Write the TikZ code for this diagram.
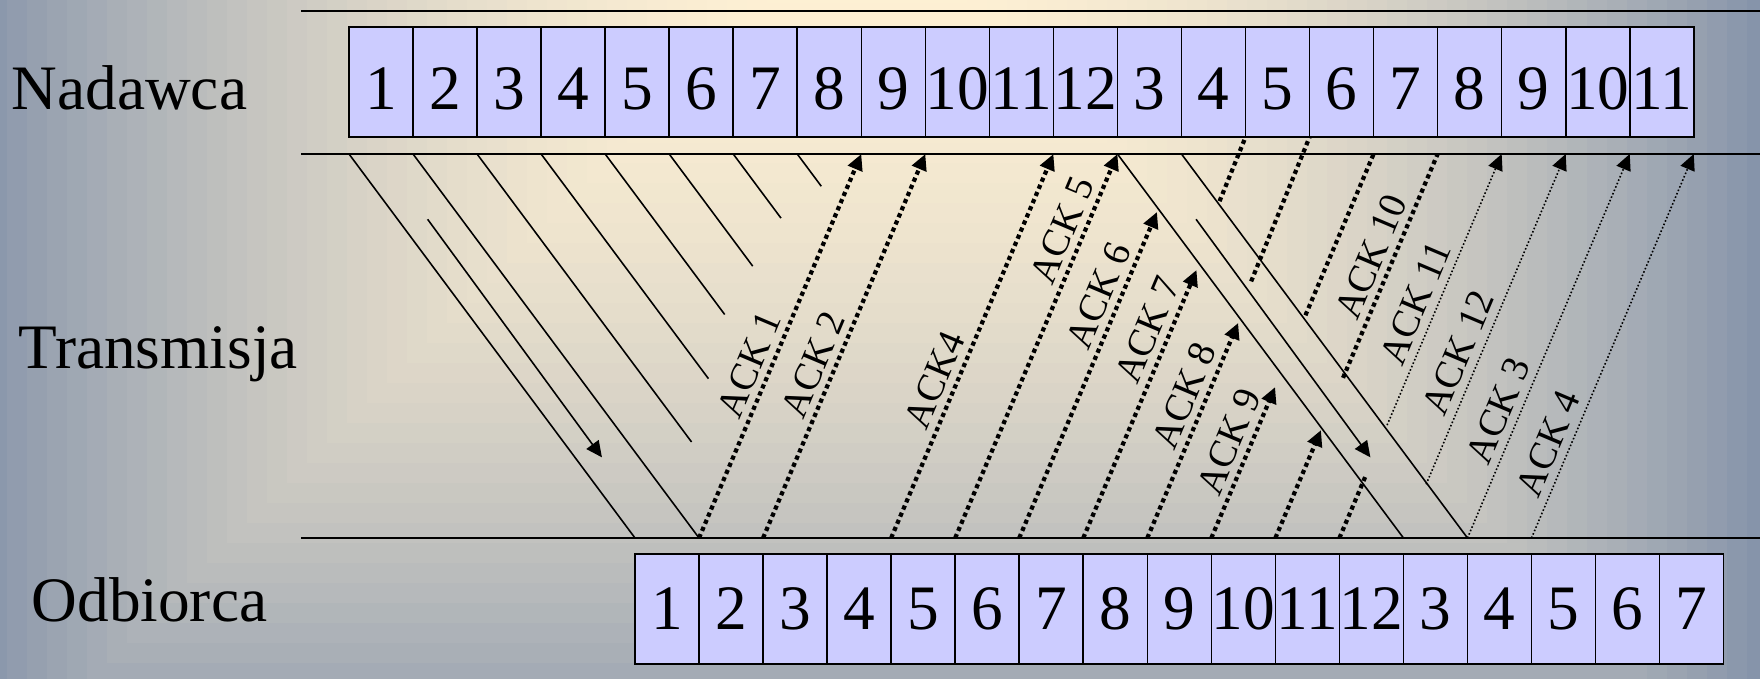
\documentclass[tikz,border=0pt]{standalone}
\usepackage{fontspec}
\setmainfont{Liberation Serif}
\usetikzlibrary{arrows.meta, positioning, calc}

\definecolor{boxfill}{RGB}{204,204,255}
\definecolor{edgec}{RGB}{134,148,170}
\definecolor{centc}{RGB}{255,241,212}

\begin{document}
\begin{tikzpicture}[x=0.01cm, y=-0.01cm, >={Triangle[length=1.6mm, width=1.5mm]}, font=\fontsize{18}{21}\selectfont]
    \tikzstyle{box} = [rectangle, draw=black, line width=0.45pt, fill=boxfill, minimum width=0.64cm, minimum height=1.1cm, inner sep=0pt, outer sep=0pt]
    \tikzstyle{sbox} = [box, text height=15.8pt, text depth=0pt]
    \tikzstyle{side} = [anchor=base west, inner sep=0pt]
    \tikzstyle{rail} = [line width=0.7pt]
    \tikzstyle{pkt} = [line width=0.45pt]
    \tikzstyle{ack} = [line width=1.2pt, dash pattern=on 1.2pt off 1pt]
    \tikzstyle{ackthin} = [line width=0.45pt, dash pattern=on 0.45pt off 0.6pt]
    \tikzstyle{lbl} = [sloped, above, inner sep=2.2pt, font=\fontsize{11}{13}\selectfont]

    % Background
    \useasboundingbox (0,0) rectangle (1760,679);
    \clip (0,0) rectangle (1760,679);
    \foreach \dd in {900,880,...,20} {
        \pgfmathsetmacro{\pmix}{100*(\dd/900)^2}
        \fill[edgec!\pmix!centc] (867-\dd,-97-\dd) rectangle (867+\dd,-97+\dd);
    }

    % Nodes
    \node[side] (nad) at (11,110) {Nadawca};
    \node[side] (tra) at (18,368) {Transmisja};
    \node[side] (odb) at (31,621) {Odbiorca};

    \node[sbox, anchor=north west] (s1) at (349,27) {1};
    \foreach \lab [count=\cc from 2] in {2,3,4,5,6,7,8,9,10,11,12,3,4,5,6,7,8,9,10,11} {
        \pgfmathtruncatemacro{\pv}{\cc-1}
        \node[sbox, right=0pt of s\pv] (s\cc) {\lab};
    }
    \node[box, anchor=north west] (r1) at (635,554) {1};
    \foreach \lab [count=\cc from 2] in {2,3,4,5,6,7,8,9,10,11,12,3,4,5,6,7} {
        \pgfmathtruncatemacro{\pv}{\cc-1}
        \node[box, right=0pt of r\pv] (r\cc) {\lab};
    }

    % Rails
    \coordinate (tl) at (301,11);
    \coordinate (sl) at (301,154);
    \coordinate (rl) at (301,538);
    \coordinate (er) at (1760,0);
    \draw[rail] (tl) -- (tl -| er);
    \draw[rail] (sl) -- (sl -| er);
    \draw[rail] (rl) -- (rl -| er);

    % Send and receive points
    \foreach \cc in {1,...,21}
        \coordinate (tx\cc) at (s\cc.south west |- sl);
    \coordinate (tx22) at (s21.south east |- sl);
    \foreach \cc in {1,...,17}
        \coordinate (rx\cc) at (r\cc.north west |- rl);

    % Connections
    \foreach \cc in {1,2,13,14}
        \draw[pkt] (tx\cc) -- (rx\cc);
    \foreach \cc/\ff in {3/0.75,4/0.585,5/0.418,6/0.292,7/0.167,8/0.084}
        \draw[pkt] (tx\cc) -- ($(tx\cc)!\ff!(rx\cc)$);
    \foreach \cc in {1,13}
        \draw[pkt, ->] ($(tx\cc)!0.17!(rx\cc)+(30,0)$) -- ($(tx\cc)!0.79!(rx\cc)+(27,0)$);

    \foreach \rr/\ss in {2/9,3/10,5/12,6/13}
        \draw[ack, ->] (rx\rr) -- (tx\ss);
    \foreach \rr/\ss/\ff in {7/14/0.849,8/15/0.698,9/16/0.56,10/17/0.393,11/18/0.281}
        \draw[ack, ->] (rx\rr) -- ($(rx\rr)!\ff!(tx\ss)$);
    \draw[ack] (rx12) -- ($(rx12)!0.164!(tx19)$);
    \draw[ack] ($(rx8)!0.84!(s15.south west)$) -- (s15.south west);
    \draw[ack] ($(rx9)!0.64!(s16.south west)$) -- (s16.south west);
    \draw[ack] ($(rx10)!0.58!(tx17)$) -- (tx17);
    \draw[ack] ($(rx11)!0.417!(tx18)$) -- (tx18);

    \draw[ackthin, ->] ($(rx12)!0.294!(tx19)$) -- (tx19);
    \draw[ackthin, ->] ($(rx13)!0.14!(tx20)$) -- (tx20);
    \draw[ackthin, ->] (rx14) -- (tx21);
    \draw[ackthin, ->] (rx15) -- (tx22);

    % Ack labels
    \foreach \rr/\ss/\ps/\txt in {2/9/0.43/ACK 1, 3/10/0.43/ACK 2, 5/12/0.39/ACK4, 6/13/0.78/ACK 5, 7/14/0.61/ACK 6, 8/15/0.52/ACK 7, 9/16/0.35/ACK 8, 10/17/0.23/ACK 9, 11/18/0.71/ACK 10, 12/19/0.59/ACK 11, 13/20/0.46/ACK 12, 14/21/0.31/ACK 3, 15/22/0.225/ACK 4}
        \path (rx\rr) -- (tx\ss) node[lbl, pos=\ps] {\txt};
\end{tikzpicture}
\end{document}
